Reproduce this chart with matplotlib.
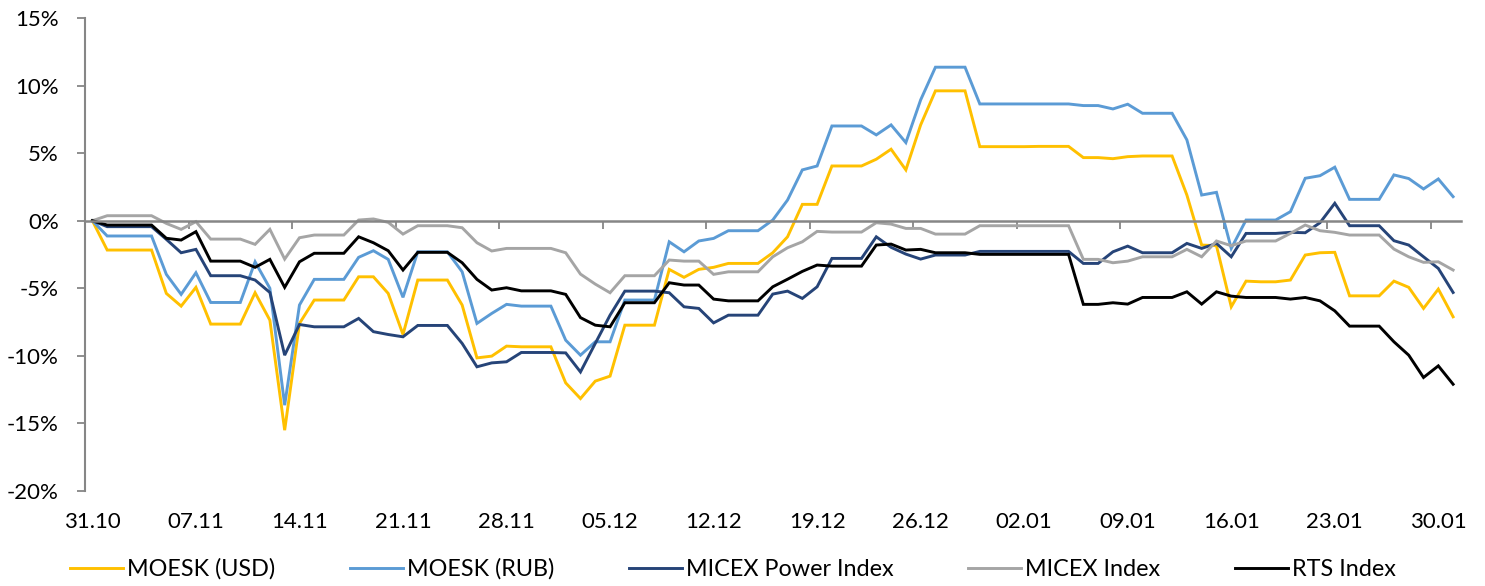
import numpy as np
import matplotlib
matplotlib.use("Agg")
import matplotlib.pyplot as plt

# daily relative change vs 31.10, in %, 31.10 .. 31.01
moesk_usd = [0, -2.17, -2.17, -2.17, -2.17, -5.38, -6.32, -4.93, -7.65, -7.65,
             -7.65, -5.33, -7.36, -15.5, -7.6, -5.87, -5.87, -5.87, -4.15, -4.15,
             -5.38, -8.42, -4.39, -4.39, -4.39, -6.24, -10.15, -10.02, -9.28, -9.33,
             -9.33, -9.33, -12.0, -13.16, -11.87, -11.5, -7.73, -7.73, -7.73, -3.6,
             -4.19, -3.6, -3.45, -3.16, -3.16, -3.16, -2.37, -1.19, 1.21, 1.21,
             4.05, 4.05, 4.05, 4.55, 5.29, 3.76, 7.09, 9.61, 9.61, 9.61,
             5.48, 5.48, 5.48, 5.48, 5.5, 5.5, 5.5, 4.67, 4.67, 4.59,
             4.74, 4.79, 4.79, 4.79, 1.9, -1.8, -1.85, -6.37, -4.47, -4.52,
             -4.52, -4.39, -2.54, -2.37, -2.34, -5.56, -5.56, -5.56, -4.47, -4.93,
             -6.49, -5.06, -7.11]
moesk_rub = [0, -1.13, -1.13, -1.13, -1.13, -3.97, -5.45, -3.85, -6.05, -6.05,
             -6.05, -3.04, -5.0, -13.65, -6.24, -4.34, -4.34, -4.34, -2.71, -2.22,
             -2.86, -5.67, -2.3, -2.3, -2.3, -3.78, -7.6, -6.86, -6.19, -6.32,
             -6.32, -6.32, -8.84, -9.95, -8.96, -8.96, -5.87, -5.87, -5.87, -1.56,
             -2.3, -1.5, -1.31, -0.74, -0.74, -0.74, 0.05, 1.53, 3.76, 4.05,
             7.01, 7.01, 7.01, 6.35, 7.09, 5.78, 8.94, 11.36, 11.36, 11.36,
             8.64, 8.64, 8.64, 8.64, 8.64, 8.64, 8.64, 8.52, 8.52, 8.27,
             8.62, 7.95, 7.95, 7.95, 5.98, 1.9, 2.1, -2.05, 0.05, 0.05,
             0.05, 0.67, 3.14, 3.33, 3.96, 1.58, 1.58, 1.58, 3.39, 3.12,
             2.35, 3.09, 1.78]
micex_power = [0, -0.44, -0.44, -0.44, -0.44, -1.38, -2.37, -2.12, -4.07, -4.07,
               -4.07, -4.39, -5.31, -9.95, -7.68, -7.85, -7.85, -7.85, -7.23, -8.21,
               -8.42, -8.59, -7.75, -7.75, -7.75, -9.08, -10.81, -10.52, -10.44, -9.75,
               -9.75, -9.75, -9.78, -11.19, -9.08, -6.99, -5.21, -5.21, -5.21, -5.33,
               -6.37, -6.49, -7.56, -6.99, -6.99, -6.99, -5.43, -5.21, -5.75, -4.89,
               -2.79, -2.79, -2.79, -1.19, -1.97, -2.47, -2.84, -2.54, -2.54, -2.54,
               -2.27, -2.27, -2.27, -2.27, -2.27, -2.27, -2.27, -3.16, -3.16, -2.3,
               -1.88, -2.37, -2.37, -2.37, -1.68, -2.05, -1.68, -2.67, -0.94, -0.94,
               -0.94, -0.86, -0.89, -0.15, 1.29, -0.37, -0.37, -0.37, -1.48, -1.8,
               -2.67, -3.53, -5.31]
micex = [0, 0.37, 0.37, 0.37, 0.37, -0.2, -0.64, -0.07, -1.36, -1.36,
         -1.36, -1.75, -0.64, -2.84, -1.26, -1.06, -1.06, -1.06, 0.05, 0.13,
         -0.12, -0.99, -0.37, -0.37, -0.37, -0.52, -1.63, -2.24, -2.05, -2.05,
         -2.05, -2.05, -2.37, -3.95, -4.69, -5.33, -4.07, -4.07, -4.07, -2.91,
         -2.99, -2.99, -3.97, -3.78, -3.78, -3.78, -2.67, -2.0, -1.56, -0.79,
         -0.84, -0.84, -0.84, -0.15, -0.25, -0.57, -0.57, -0.99, -0.99, -0.99,
         -0.37, -0.37, -0.37, -0.37, -0.37, -0.37, -0.37, -2.86, -2.86, -3.11,
         -2.99, -2.67, -2.67, -2.67, -2.12, -2.67, -1.5, -1.85, -1.5, -1.5,
         -1.5, -0.94, -0.32, -0.74, -0.86, -1.06, -1.06, -1.06, -2.1, -2.67,
         -3.08, -3.04, -3.65]
rts = [0, -0.32, -0.32, -0.32, -0.32, -1.3, -1.43, -0.81, -2.99, -2.99,
       -2.99, -3.45, -2.86, -4.93, -3.04, -2.41, -2.41, -2.41, -1.19, -1.63,
       -2.22, -3.65, -2.34, -2.34, -2.34, -3.11, -4.34, -5.13, -4.96, -5.19,
       -5.19, -5.19, -5.45, -7.17, -7.73, -7.85, -6.07, -6.07, -6.07, -4.59,
       -4.76, -4.76, -5.8, -5.93, -5.93, -5.93, -4.89, -4.33, -3.75, -3.28,
       -3.36, -3.36, -3.36, -1.8, -1.73, -2.17, -2.12, -2.37, -2.37, -2.37,
       -2.49, -2.49, -2.49, -2.49, -2.49, -2.49, -2.49, -6.19, -6.19, -6.07,
       -6.17, -5.68, -5.68, -5.68, -5.26, -6.17, -5.26, -5.58, -5.68, -5.68,
       -5.68, -5.8, -5.68, -5.93, -6.67, -7.8, -7.8, -7.8, -8.96, -9.95,
       -11.6, -10.74, -12.1]

series_names = ["MOESK (USD)", "MOESK (RUB)", "MICEX Power Index", "MICEX Index", "RTS Index"]
series_colors = ["#FFC000", "#5B9BD5", "#264478", "#A5A5A5", "#000000"]
date_labels = ["31.10", "07.11", "14.11", "21.11", "28.11", "05.12", "12.12",
               "19.12", "26.12", "02.01", "09.01", "16.01", "23.01", "30.01"]
y_ticks = [-20, -15, -10, -5, 0, 5, 10, 15]

plt.rcParams["font.family"] = ["Lato", "DejaVu Sans"]
axis_gray = "#868686"

fig = plt.figure(figsize=(14.85, 5.86), dpi=100)
ax = fig.add_axes([85 / 1485, 95 / 586, 1375.5 / 1485, 473 / 586])

x = np.arange(len(moesk_usd))
for vals, name, col in zip([moesk_usd, moesk_rub, micex_power, micex, rts], series_names, series_colors):
    ax.plot(x, vals, color=col, linewidth=2.1, label=name, solid_joinstyle="miter")

ax.set_xlim(-0.5, len(x) - 0.5)
ax.set_ylim(-20, 15)

# y axis
ax.set_yticks(y_ticks)
ax.set_yticklabels([f"{v}%" for v in y_ticks])
ax.tick_params(axis="y", direction="out", length=5.8, width=1.3, color=axis_gray,
               pad=13, labelsize=16, labelcolor="black")
for s in ["top", "right"]:
    ax.spines[s].set_visible(False)
ax.spines["left"].set_color(axis_gray)
ax.spines["left"].set_linewidth(1.5)

# horizontal axis crosses at 0, tick marks between weeks
ax.spines["bottom"].set_position(("data", 0))
ax.spines["bottom"].set_color(axis_gray)
ax.spines["bottom"].set_linewidth(1.8)
week_pos = np.arange(0, len(x), 7)
ax.set_xticks(week_pos[1:] - 0.5)
ax.set_xticklabels([])
ax.tick_params(axis="x", direction="out", length=5.5, width=1.3, color=axis_gray)

# date labels along the bottom edge
sec = ax.secondary_xaxis(0.0)
sec.set_xticks(week_pos)
sec.set_xticklabels(date_labels)
sec.tick_params(axis="x", length=0, pad=15, labelsize=16, labelcolor="black")
sec.spines["bottom"].set_visible(False)

fig.legend(loc="center", bbox_to_anchor=(0.4936, 0.029), ncol=5, frameon=False,
           fontsize=16.8, handlelength=2.27, handletextpad=0.17, columnspacing=3.2)

fig.savefig("out.png", dpi=100)
